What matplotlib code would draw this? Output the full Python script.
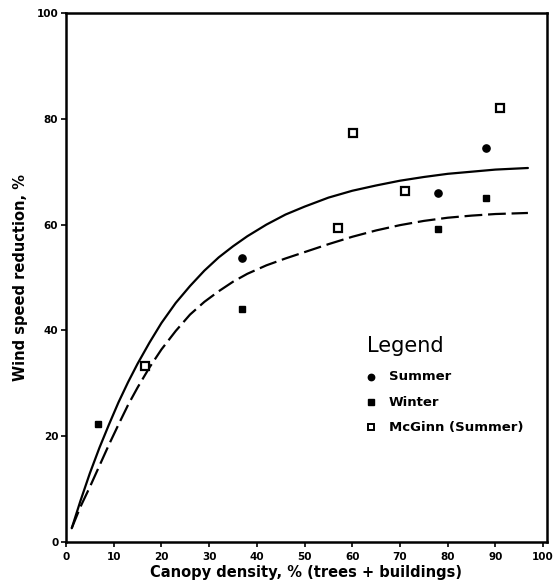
import matplotlib
matplotlib.use("Agg")
import matplotlib.pyplot as plt

# Data
summer_x = [36.9, 78.0, 88.1]
summer_y = [53.6, 66.0, 74.5]
winter_x = [6.7, 36.9, 78.0, 88.1]
winter_y = [22.4, 44.0, 59.2, 65.1]
mcginn_x = [16.6, 57.0, 60.2, 71.1, 91.0]
mcginn_y = [33.2, 59.4, 77.4, 66.4, 82.1]

# Fitted curves
summer_curve_x = [1.2, 3, 5, 7, 9, 11, 13, 15, 17.5, 20, 23, 26, 29, 32, 35, 38, 42, 46, 50,
                  55, 60, 65, 70, 75, 80, 85, 90, 96.8]
summer_curve_y = [2.6, 7.7, 13.0, 17.8, 22.2, 26.4, 30.2, 33.7, 37.7, 41.4, 45.2, 48.4, 51.3,
                  53.8, 55.9, 57.8, 60.0, 61.9, 63.4, 65.1, 66.4, 67.4, 68.3, 69.0, 69.6,
                  70.0, 70.4, 70.7]
winter_curve_x = [1.2, 3, 5, 7, 9, 11, 13, 15, 17.5, 20, 23, 26, 29, 32, 35, 38, 42, 46, 50,
                  55, 60, 65, 70, 75, 80, 85, 90, 96.8]
winter_curve_y = [2.6, 6.6, 10.4, 14.4, 18.4, 22.2, 25.9, 29.2, 33.0, 36.4, 39.9, 43.0, 45.4,
                  47.4, 49.2, 50.7, 52.3, 53.6, 54.8, 56.3, 57.7, 58.9, 59.9, 60.7, 61.3,
                  61.7, 62.0, 62.2]

x_ticks = [0, 10, 20, 30, 40, 50, 60, 70, 80, 90, 100]
y_ticks = [0, 20, 40, 60, 80, 100]

xlabel = "Canopy density, % (trees + buildings)"
ylabel = "Wind speed reduction, %"
legend_title = "Legend"
legend_labels = ["Summer", "Winter", "McGinn (Summer)"]

plt.rcParams['font.family'] = ['DejaVu Sans']

W, H = 554, 584
fig = plt.figure(figsize=(W / 100, H / 100), dpi=100)
ax = fig.add_axes([66 / W, 1 - 542 / H, (547 - 66) / W, (542 - 13) / H])

ax.plot(summer_curve_x, summer_curve_y, color='black', lw=1.6, solid_capstyle='round',
        solid_joinstyle='round')
ax.plot(winter_curve_x, winter_curve_y, color='black', lw=1.6, dashes=(8, 2.6))

ax.plot(summer_x, summer_y, 'o', color='black', ms=5.2, ls='none')
ax.plot(winter_x, winter_y, 's', color='black', ms=5.0, ls='none')
ax.plot(mcginn_x, mcginn_y, 's', mfc='white', mec='black', mew=1.6, ms=5.8, ls='none')

ax.set_xlim(0, 100.8)
ax.set_ylim(0, 100)
ax.set_xticks(x_ticks)
ax.set_yticks(y_ticks)
ax.tick_params(direction='out', length=3.5, width=1.2, labelsize=7.5)
for lab in ax.get_xticklabels() + ax.get_yticklabels():
    lab.set_fontweight('bold')
ax.tick_params(axis='x', pad=4)
ax.tick_params(axis='y', pad=2)

for side in ['left', 'bottom', 'right', 'top']:
    ax.spines[side].set_linewidth(1.8)

ax.set_xlabel(xlabel, fontsize=10.5, fontweight='bold', labelpad=2)
ax.set_ylabel(ylabel, fontsize=10.5, fontweight='bold', labelpad=6)

# Legend, placed as in the reference (pixel positions converted to figure fraction)
def fx(px):
    return px / W

def fy(py):
    return 1 - py / H

fig.text(fx(367), fy(346), legend_title, fontsize=15, ha='left', va='center')
entry_y = [377, 402, 427]
styles = [dict(marker='o', color='black', ms=4.6),
          dict(marker='s', color='black', ms=4.4),
          dict(marker='s', mfc='white', mec='black', mew=1.4, ms=5.0)]
for lab, py, st in zip(legend_labels, entry_y, styles):
    fig.add_artist(plt.Line2D([fx(371)], [fy(py)], transform=fig.transFigure, ls='none', **st))
    fig.text(fx(389), fy(py), lab, fontsize=9.5, fontweight='bold', ha='left', va='center')

fig.savefig('out.png', dpi=100)
